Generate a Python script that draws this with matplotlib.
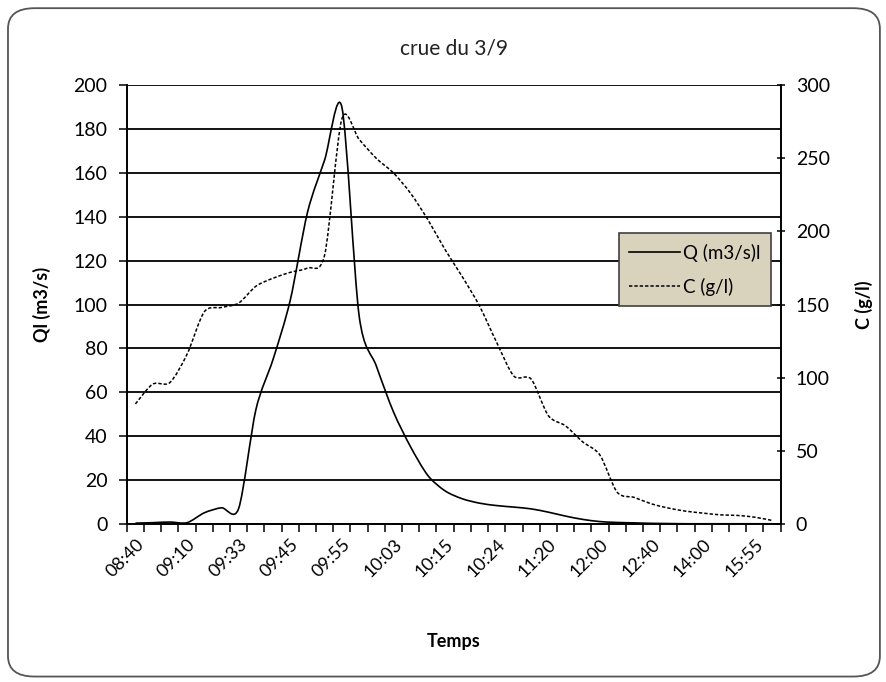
import matplotlib.pyplot as plt
from matplotlib.lines import Line2D
from matplotlib.patches import FancyBboxPatch, PathPatch
from matplotlib.path import Path

plt.rcParams["font.family"] = ["Lato", "DejaVu Sans"]

times = ["08:40", "", "", "09:10", "", "", "09:33", "", "", "09:45", "", "",
         "09:55", "", "", "10:03", "", "", "10:15", "", "", "10:24", "", "",
         "11:20", "", "", "12:00", "", "", "12:40", "", "", "14:00", "", "",
         "15:55", ""]

q_flow = [0.3, 0.5, 0.8, 0.5, 5.0, 7.3, 7.0, 52, 75, 102, 142, 166,
          190, 95, 72, 51, 35, 22, 15, 11.4, 9.4, 8.3, 7.6, 6.8,
          5.3, 3.5, 2.0, 1.0, 0.6, 0.4, 0.2, 0.1, 0, 0, 0, 0,
          0, 0]

conc = [82, 95.5, 96.6, 116, 145, 148, 151, 162.5, 168, 172, 175, 184,
        277, 263, 250, 240, 226, 208, 187.5, 169, 149, 124, 101, 99,
        74, 67, 56, 47, 21.6, 18, 13.6, 10.7, 8.6, 7.3, 6.1, 5.7,
        4.5, 2.3]


def smooth_path(xs, ys, k=7.0):
    # Catmull-Rom style bezier, close to Excel's "smoothed line"
    pts = list(zip(xs, ys))
    verts = [pts[0]]
    codes = [Path.MOVETO]
    n = len(pts)
    for i in range(n - 1):
        p0 = pts[i - 1] if i > 0 else pts[i]
        p1 = pts[i]
        p2 = pts[i + 1]
        p3 = pts[i + 2] if i + 2 < n else pts[i + 1]
        c1 = (p1[0] + (p2[0] - p0[0]) / k, p1[1] + (p2[1] - p0[1]) / k)
        c2 = (p2[0] - (p3[0] - p1[0]) / k, p2[1] - (p3[1] - p1[1]) / k)
        verts += [c1, c2, p2]
        codes += [Path.CURVE4] * 3
    return Path(verts, codes)


fig = plt.figure(figsize=(8.87, 6.82), dpi=100)
ax = fig.add_axes([0.143, 0.232, 0.737, 0.643])
ax2 = ax.twinx()

x = list(range(len(times)))
q_style = dict(color="black", linewidth=1.2)
c_style = dict(color="black", linewidth=1.1, linestyle=(0, (2.2, 1.3)))

ax.add_patch(PathPatch(smooth_path(x, q_flow), fill=False, zorder=3, **q_style))
ax2.add_patch(PathPatch(smooth_path(x, conc), fill=False, zorder=3, **c_style))

ax.set_xlim(-0.5, len(times) - 0.5)
ax.set_ylim(0, 200)
ax2.set_ylim(0, 300)
ax.set_yticks(range(0, 201, 20))
ax2.set_yticks(range(0, 301, 50))

ax.set_xticks([i for i, t in enumerate(times) if t])
ax.set_xticklabels([t for t in times if t], rotation=45, ha="right",
                   rotation_mode="anchor", fontsize=13)
ax.set_xticks([i - 0.5 for i in range(len(times) + 1)], minor=True)
ax.tick_params(axis="x", which="major", length=0, pad=9)
ax.tick_params(axis="x", which="minor", length=6, width=1.1, color="black")
ax.tick_params(axis="y", length=6, width=1.1, labelsize=14, pad=8)
ax2.tick_params(axis="y", length=6, width=1.1, labelsize=14, pad=8, direction="inout")

ax.grid(True, axis="y", color="black", linewidth=1.3)
ax.set_axisbelow(True)
ax.spines["top"].set_visible(False)
ax2.spines["top"].set_visible(False)
for a in (ax, ax2):
    for s in a.spines.values():
        s.set_linewidth(1.2)

ax.set_title("crue du 3/9", fontsize=15, pad=22, color="#222222")
ax.set_xlabel("Temps", fontsize=13, fontweight="bold", labelpad=38)
ax.set_ylabel("Ql (m3/s)", fontsize=13, fontweight="bold", labelpad=16)
ax2.set_ylabel("C (g/l)", fontsize=13, fontweight="bold", rotation=90, labelpad=18)

handles = [Line2D([], [], **q_style), Line2D([], [], **c_style)]
leg = fig.legend(handles, ["Q (m3/s)l", "C (g/l)"], loc="upper left",
                 bbox_to_anchor=(0.698, 0.658), bbox_transform=fig.transFigure,
                 borderaxespad=0, fancybox=False, fontsize=13.5, handlelength=2.7,
                 labelspacing=0.85, borderpad=0.55, handletextpad=0.15)
leg.get_frame().set_facecolor("#d9d2bd")
leg.get_frame().set_edgecolor("#404040")
leg.get_frame().set_linewidth(1.2)
leg.get_frame().set_alpha(1)

border = FancyBboxPatch((0.009, 0.008), 0.983, 0.98, transform=fig.transFigure,
                        boxstyle="round,pad=0,rounding_size=0.03",
                        fill=False, edgecolor="#555555", linewidth=1.3)
fig.patches.append(border)

fig.savefig("out.png")
